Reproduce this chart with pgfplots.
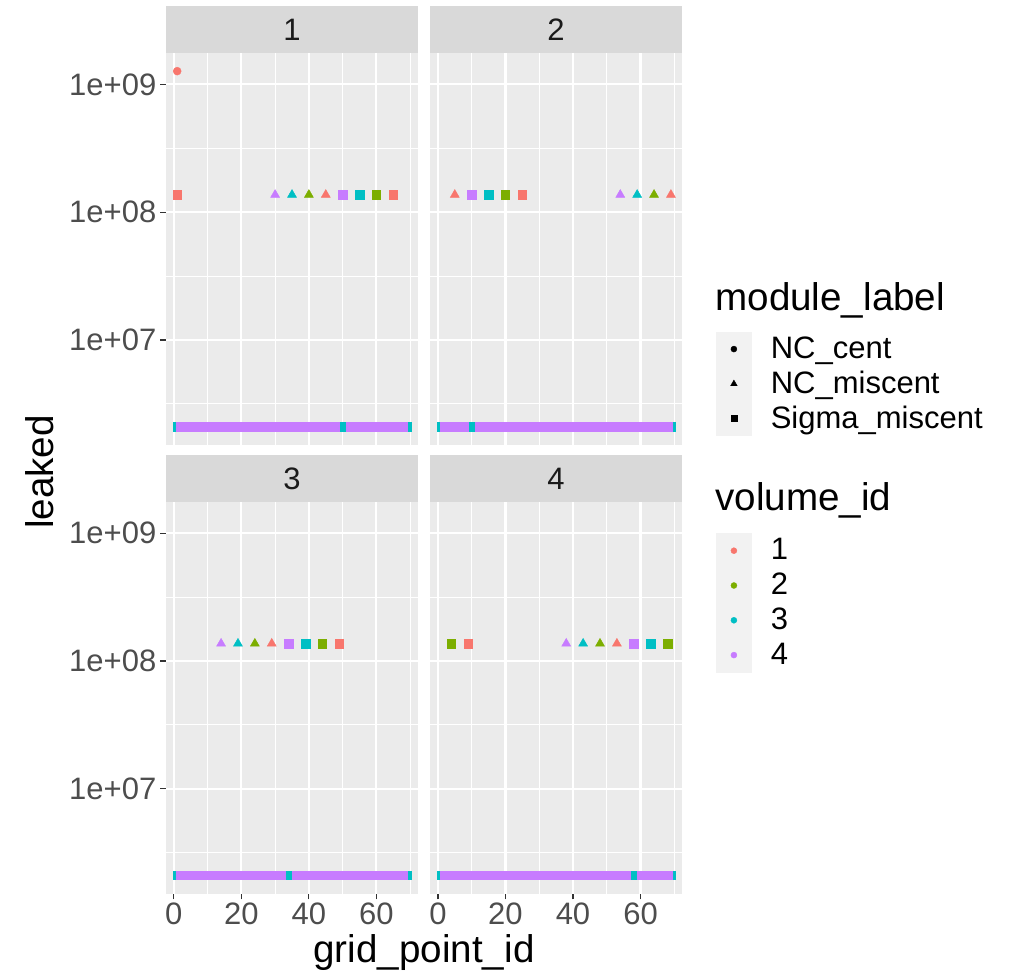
\documentclass[border=0pt]{standalone}
\usepackage{pgfplots}
\pgfplotsset{compat=1.18}
\usepackage{fontspec}
\setmainfont{Liberation Sans}
\definecolor{gR}{HTML}{F8766D}
\definecolor{gG}{HTML}{7CAE00}
\definecolor{gC}{HTML}{00BFC4}
\definecolor{gP}{HTML}{C77CFF}
\definecolor{panelbg}{HTML}{EBEBEB}
\definecolor{stripbg}{HTML}{D9D9D9}
\definecolor{keybg}{HTML}{F2F2F2}
\definecolor{tickc}{HTML}{333333}
\definecolor{ticklab}{HTML}{4D4D4D}
\definecolor{stript}{HTML}{1A1A1A}
\newcommand{\ticksize}{\fontsize{15.5}{18}\selectfont}
\newcommand{\titlesize}{\fontsize{19.3}{23}\selectfont}
\pgfplotsset{
  facet/.style={
    scale only axis, width=126.3pt, height=195.75pt,
    xmin=-2.4, xmax=72.4, ymin=1.51e6, ymax=1.746e9,
    axis background/.style={fill=panelbg},
    axis line style={draw=none},
    xtick={0,20,40,60}, minor xtick={10,30,50,70},
    ytick={1e7,1e8,1e9}, minor ytick={3.1623e6,3.1623e7,3.1623e8},
    xticklabels={0,20,40,60}, yticklabels={1e+07,1e+08,1e+09},
    grid=both,
    major grid style={white, line width=1.05pt},
    minor grid style={white, line width=0.5pt},
    tick align=outside, xtick pos=lower, ytick pos=left,
    major tick length=2.85pt, minor tick length=0pt,
    tick style={tickc, line width=0.6pt},
    ticklabel style={font=\ticksize, text=ticklab},
    yticklabel style={inner xsep=1.65pt},
    xticklabel style={inner ysep=1.25pt},
  },
  notx/.style={xticklabels={}, xtick style={draw=none}},
  noty/.style={yticklabels={}, ytick style={draw=none}},
  sq/.style={only marks, mark=square*, mark size=2.1pt},
  tri/.style={only marks, mark=triangle*, mark size=2.6pt},
  dot/.style={only marks, mark=*, mark size=2.0pt},
  cR/.style={color=gR, mark options={draw=gR, fill=gR, line width=0.2pt}},
  cG/.style={color=gG, mark options={draw=gG, fill=gG, line width=0.2pt}},
  cC/.style={color=gC, mark options={draw=gC, fill=gC, line width=0.2pt}},
  cP/.style={color=gP, mark options={draw=gP, fill=gP, line width=0.2pt}},
  cK/.style={color=black, mark options={draw=black, fill=black, line width=0.2pt}},
  cCn/.style={color=gC, mark options={draw=gC, fill=gC, line width=0.2pt, xscale=0.5}},
  keyimg/.style={legend image code/.code={\fill[keybg] (0pt,-8.5pt) rectangle (17.5pt,8.5pt); \draw[##1, only marks] plot coordinates {(8.75pt,0pt)};}},
  keylegend/.style={legend style={draw=none, fill=none, inner sep=0pt, outer sep=0pt, row sep=0pt, column sep=9.5pt, font=\ticksize, nodes={inner sep=0pt}, cells={anchor=west}}},
}
\begin{document}
\begin{tikzpicture}
\path[use as bounding box] (0pt,0pt) rectangle (507.5pt,488.5pt);

% Panel 1
\begin{semilogyaxis}[facet, notx, name=p1, at={(82.85pt,266pt)}, anchor=south west]
\addplot[sq, cC] coordinates {(1,2.1e6)(69,2.1e6)};
\addplot[sq, cP] coordinates {(2,2.1e6)(3,2.1e6)(4,2.1e6)(5,2.1e6)(6,2.1e6)(7,2.1e6)(8,2.1e6)(9,2.1e6)(10,2.1e6)(11,2.1e6)(12,2.1e6)(13,2.1e6)(14,2.1e6)(15,2.1e6)(16,2.1e6)(17,2.1e6)(18,2.1e6)(19,2.1e6)(20,2.1e6)(21,2.1e6)(22,2.1e6)(23,2.1e6)(24,2.1e6)(25,2.1e6)(26,2.1e6)(27,2.1e6)(28,2.1e6)(29,2.1e6)(30,2.1e6)(31,2.1e6)(32,2.1e6)(33,2.1e6)(34,2.1e6)(35,2.1e6)(36,2.1e6)(37,2.1e6)(38,2.1e6)(39,2.1e6)(40,2.1e6)(41,2.1e6)(42,2.1e6)(43,2.1e6)(44,2.1e6)(45,2.1e6)(46,2.1e6)(47,2.1e6)(48,2.1e6)(49,2.1e6)(51,2.1e6)(52,2.1e6)(53,2.1e6)(54,2.1e6)(55,2.1e6)(56,2.1e6)(57,2.1e6)(58,2.1e6)(59,2.1e6)(60,2.1e6)(61,2.1e6)(62,2.1e6)(63,2.1e6)(64,2.1e6)(65,2.1e6)(66,2.1e6)(67,2.1e6)(68,2.1e6)};
\addplot[sq, cCn] coordinates {(50,2.1e6)};
\addplot[dot, cR] coordinates {(1,1.27e9)};
\addplot[sq, cR] coordinates {(1,1.37e8)(65,1.37e8)};
\addplot[tri, cP] coordinates {(30,1.37e8)};
\addplot[tri, cC] coordinates {(35,1.37e8)};
\addplot[tri, cG] coordinates {(40,1.37e8)};
\addplot[tri, cR] coordinates {(45,1.37e8)};
\addplot[sq, cP] coordinates {(50,1.37e8)};
\addplot[sq, cC] coordinates {(55,1.37e8)};
\addplot[sq, cG] coordinates {(60,1.37e8)};
\end{semilogyaxis}

% Panel 2
\begin{semilogyaxis}[facet, notx, noty, name=p2, at={(214.9pt,266pt)}, anchor=south west,
  keylegend, legend style={at={(1.133,0.2894)}, anchor=north west}]
\addlegendimage{dot, mark size=1.5pt, cK, keyimg}
\addlegendentry{NC\_cent}
\addlegendimage{tri, mark size=1.9pt, cK, keyimg}
\addlegendentry{NC\_miscent}
\addlegendimage{sq, mark size=1.5pt, cK, keyimg}
\addlegendentry{Sigma\_miscent}
\addplot[sq, cC, forget plot] coordinates {(1,2.1e6)(69,2.1e6)};
\addplot[sq, cP, forget plot] coordinates {(2,2.1e6)(3,2.1e6)(4,2.1e6)(5,2.1e6)(6,2.1e6)(7,2.1e6)(8,2.1e6)(9,2.1e6)(11,2.1e6)(12,2.1e6)(13,2.1e6)(14,2.1e6)(15,2.1e6)(16,2.1e6)(17,2.1e6)(18,2.1e6)(19,2.1e6)(20,2.1e6)(21,2.1e6)(22,2.1e6)(23,2.1e6)(24,2.1e6)(25,2.1e6)(26,2.1e6)(27,2.1e6)(28,2.1e6)(29,2.1e6)(30,2.1e6)(31,2.1e6)(32,2.1e6)(33,2.1e6)(34,2.1e6)(35,2.1e6)(36,2.1e6)(37,2.1e6)(38,2.1e6)(39,2.1e6)(40,2.1e6)(41,2.1e6)(42,2.1e6)(43,2.1e6)(44,2.1e6)(45,2.1e6)(46,2.1e6)(47,2.1e6)(48,2.1e6)(49,2.1e6)(50,2.1e6)(51,2.1e6)(52,2.1e6)(53,2.1e6)(54,2.1e6)(55,2.1e6)(56,2.1e6)(57,2.1e6)(58,2.1e6)(59,2.1e6)(60,2.1e6)(61,2.1e6)(62,2.1e6)(63,2.1e6)(64,2.1e6)(65,2.1e6)(66,2.1e6)(67,2.1e6)(68,2.1e6)};
\addplot[sq, cCn, forget plot] coordinates {(10,2.1e6)};
\addplot[tri, cR, forget plot] coordinates {(5,1.37e8)(69,1.37e8)};
\addplot[sq, cP, forget plot] coordinates {(10,1.37e8)};
\addplot[sq, cC, forget plot] coordinates {(15,1.37e8)};
\addplot[sq, cG, forget plot] coordinates {(20,1.37e8)};
\addplot[sq, cR, forget plot] coordinates {(25,1.37e8)};
\addplot[tri, cP, forget plot] coordinates {(54,1.37e8)};
\addplot[tri, cC, forget plot] coordinates {(59,1.37e8)};
\addplot[tri, cG, forget plot] coordinates {(64,1.37e8)};
\end{semilogyaxis}

% Panel 3
\begin{semilogyaxis}[facet, name=p3, at={(82.85pt,41.6pt)}, anchor=south west]
\addplot[sq, cC] coordinates {(1,2.1e6)(69,2.1e6)};
\addplot[sq, cP] coordinates {(2,2.1e6)(3,2.1e6)(4,2.1e6)(5,2.1e6)(6,2.1e6)(7,2.1e6)(8,2.1e6)(9,2.1e6)(10,2.1e6)(11,2.1e6)(12,2.1e6)(13,2.1e6)(14,2.1e6)(15,2.1e6)(16,2.1e6)(17,2.1e6)(18,2.1e6)(19,2.1e6)(20,2.1e6)(21,2.1e6)(22,2.1e6)(23,2.1e6)(24,2.1e6)(25,2.1e6)(26,2.1e6)(27,2.1e6)(28,2.1e6)(29,2.1e6)(30,2.1e6)(31,2.1e6)(32,2.1e6)(33,2.1e6)(35,2.1e6)(36,2.1e6)(37,2.1e6)(38,2.1e6)(39,2.1e6)(40,2.1e6)(41,2.1e6)(42,2.1e6)(43,2.1e6)(44,2.1e6)(45,2.1e6)(46,2.1e6)(47,2.1e6)(48,2.1e6)(49,2.1e6)(50,2.1e6)(51,2.1e6)(52,2.1e6)(53,2.1e6)(54,2.1e6)(55,2.1e6)(56,2.1e6)(57,2.1e6)(58,2.1e6)(59,2.1e6)(60,2.1e6)(61,2.1e6)(62,2.1e6)(63,2.1e6)(64,2.1e6)(65,2.1e6)(66,2.1e6)(67,2.1e6)(68,2.1e6)};
\addplot[sq, cCn] coordinates {(34,2.1e6)};
\addplot[tri, cP] coordinates {(14,1.37e8)};
\addplot[tri, cC] coordinates {(19,1.37e8)};
\addplot[tri, cG] coordinates {(24,1.37e8)};
\addplot[tri, cR] coordinates {(29,1.37e8)};
\addplot[sq, cP] coordinates {(34,1.37e8)};
\addplot[sq, cC] coordinates {(39,1.37e8)};
\addplot[sq, cG] coordinates {(44,1.37e8)};
\addplot[sq, cR] coordinates {(49,1.37e8)};
\end{semilogyaxis}

% Panel 4
\begin{semilogyaxis}[facet, noty, name=p4, at={(214.9pt,41.6pt)}, anchor=south west,
  keylegend, legend style={at={(1.133,0.9208)}, anchor=north west}]
\addlegendimage{dot, mark size=1.5pt, cR, keyimg}
\addlegendentry{1}
\addlegendimage{dot, mark size=1.5pt, cG, keyimg}
\addlegendentry{2}
\addlegendimage{dot, mark size=1.5pt, cC, keyimg}
\addlegendentry{3}
\addlegendimage{dot, mark size=1.5pt, cP, keyimg}
\addlegendentry{4}
\addplot[sq, cC, forget plot] coordinates {(1,2.1e6)(69,2.1e6)};
\addplot[sq, cP, forget plot] coordinates {(2,2.1e6)(3,2.1e6)(4,2.1e6)(5,2.1e6)(6,2.1e6)(7,2.1e6)(8,2.1e6)(9,2.1e6)(10,2.1e6)(11,2.1e6)(12,2.1e6)(13,2.1e6)(14,2.1e6)(15,2.1e6)(16,2.1e6)(17,2.1e6)(18,2.1e6)(19,2.1e6)(20,2.1e6)(21,2.1e6)(22,2.1e6)(23,2.1e6)(24,2.1e6)(25,2.1e6)(26,2.1e6)(27,2.1e6)(28,2.1e6)(29,2.1e6)(30,2.1e6)(31,2.1e6)(32,2.1e6)(33,2.1e6)(34,2.1e6)(35,2.1e6)(36,2.1e6)(37,2.1e6)(38,2.1e6)(39,2.1e6)(40,2.1e6)(41,2.1e6)(42,2.1e6)(43,2.1e6)(44,2.1e6)(45,2.1e6)(46,2.1e6)(47,2.1e6)(48,2.1e6)(49,2.1e6)(50,2.1e6)(51,2.1e6)(52,2.1e6)(53,2.1e6)(54,2.1e6)(55,2.1e6)(56,2.1e6)(57,2.1e6)(59,2.1e6)(60,2.1e6)(61,2.1e6)(62,2.1e6)(63,2.1e6)(64,2.1e6)(65,2.1e6)(66,2.1e6)(67,2.1e6)(68,2.1e6)};
\addplot[sq, cCn, forget plot] coordinates {(58,2.1e6)};
\addplot[sq, cG, forget plot] coordinates {(4,1.37e8)(68,1.37e8)};
\addplot[sq, cR, forget plot] coordinates {(9,1.37e8)};
\addplot[tri, cP, forget plot] coordinates {(38,1.37e8)};
\addplot[tri, cC, forget plot] coordinates {(43,1.37e8)};
\addplot[tri, cG, forget plot] coordinates {(48,1.37e8)};
\addplot[tri, cR, forget plot] coordinates {(53,1.37e8)};
\addplot[sq, cP, forget plot] coordinates {(58,1.37e8)};
\addplot[sq, cC, forget plot] coordinates {(63,1.37e8)};
\end{semilogyaxis}

% strips
\foreach \p/\t in {p1/1, p2/2, p3/3, p4/4}{
  \fill[stripbg] (\p.north west) rectangle ([yshift=23.65pt]\p.north east);
  \node[font=\ticksize, text=stript] at ([yshift=11.8pt]\p.north) {\t};
}

% titles
\node[font=\titlesize, rotate=90] at (20pt,252.5pt) {leaked};
\node[font=\titlesize] at (212pt,12pt) {grid\_point\_id};
\node[font=\titlesize, anchor=west, inner sep=0pt] at (357.5pt,338.3pt) {module\_label};
\node[font=\titlesize, anchor=west, inner sep=0pt] at (357.5pt,238.5pt) {volume\_id};
\end{tikzpicture}
\end{document}
